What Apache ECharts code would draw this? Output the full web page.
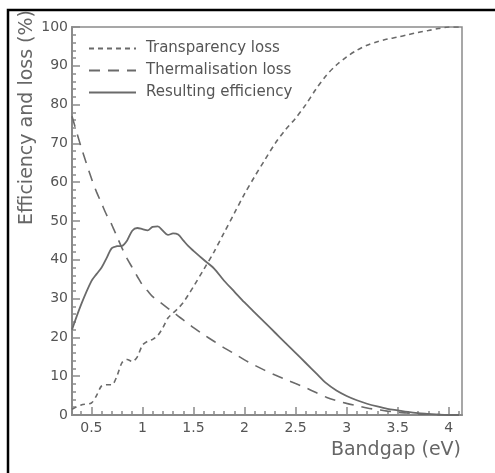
<!DOCTYPE html>
<html>
<head>
<meta charset="utf-8">
<title>Efficiency and loss</title>
<script src="https://cdn.jsdelivr.net/npm/echarts@6/dist/echarts.min.js"></script>
<style>
  html, body { margin: 0; padding: 0; background: #fff; }
  #chart { width: 495px; height: 473px; }
</style>
</head>
<body>
<div id="chart"></div>
<script>
// bandgap (eV) sample points
var bandgap = [0.31, 0.4, 0.5, 0.55, 0.6, 0.65, 0.7, 0.75, 0.8, 0.85, 0.9, 0.95, 1.0, 1.05, 1.1, 1.15, 1.2, 1.25, 1.3, 1.35, 1.4, 1.45, 1.5,
  1.6, 1.7, 1.8, 1.9, 2.0, 2.1, 2.2, 2.3, 2.4, 2.5, 2.6, 2.7, 2.8, 2.9, 3.0, 3.1, 3.2, 3.3, 3.4, 3.5, 3.6, 3.7, 3.8, 3.9, 4.0, 4.1];

var transparency = [1.5, 2.6, 3.1, 5, 7.5, 7.8, 7.8, 10, 13.5, 14.3, 13.8, 15, 18, 19, 19.5, 20.5, 22.5, 25, 26.3, 27.5, 29, 31, 33.1,
  37.5, 42, 47, 52, 57, 61.5, 65.8, 70, 73.5, 76.5, 80, 84, 87.5, 90.2, 92.3, 94, 95.3, 96.2, 96.9, 97.4, 98, 98.6, 99.1, 99.6, 100, 100];

var thermalisation = [77, 69, 61, 57.5, 54.5, 51.5, 49, 46, 43, 40.3, 38, 35.7, 33.5, 32, 30.5, 29.5, 28.5, 27.5, 26.5, 25.5, 24.5, 23.5, 22.5,
  20.7, 19, 17.3, 15.8, 14.2, 12.8, 11.5, 10.3, 9.2, 8.1, 7, 5.8, 4.6, 3.7, 3, 2.4, 1.8, 1.4, 1, 0.7, 0.5, 0.3, 0.2, 0.1, 0, 0];

var efficiency = [22, 28.5, 34.5, 36.3, 38, 40.5, 43, 43.5, 43.6, 45, 47.5, 48.2, 47.9, 47.6, 48.5, 48.6, 47.5, 46.4, 46.8, 46.5, 45, 43.5, 42.3,
  40, 37.8, 34.6, 31.8, 29, 26.4, 23.8, 21.2, 18.6, 16, 13.4, 10.8, 8.2, 6.3, 4.9, 3.8, 2.9, 2.2, 1.6, 1.2, 0.8, 0.5, 0.3, 0.1, 0, 0];

var xMajor = [0.5, 1, 1.5, 2, 2.5, 3, 3.5, 4];
var xMinor = [0.4, 0.6, 0.7, 0.8, 0.9, 1.1, 1.2, 1.3, 1.4, 1.6, 1.7, 1.8, 1.9, 2.1, 2.2, 2.3, 2.4,
  2.6, 2.7, 2.8, 2.9, 3.1, 3.2, 3.3, 3.4, 3.6, 3.7, 3.8, 3.9, 4.1];

function pairs(ys) {
  return bandgap.map(function (x, i) { return [x, ys[i]]; });
}

var grey = '#6a6a6a';
var axisGrey = '#8a8a8a';
var font = 'DejaVu Sans';

var chart = echarts.init(document.getElementById('chart'));

chart.setOption({
  animation: false,
  textStyle: { fontFamily: font },
  grid: {
    left: 72, top: 27, right: 33, bottom: 58,
    show: true, borderColor: axisGrey, borderWidth: 1.5,
    outerBoundsMode: 'none'
  },
  legend: {
    orient: 'vertical',
    left: 88, top: 41, padding: 0,
    itemWidth: 47, itemHeight: 14, itemGap: 7,
    itemStyle: { opacity: 0 },
    textStyle: { color: '#555', fontSize: 15, fontFamily: font, padding: [0, 0, 0, 5] },
    data: ['Transparency loss', 'Thermalisation loss', 'Resulting efficiency']
  },
  xAxis: [{
    type: 'value', position: 'bottom',
    min: 0.31, max: 4.13,
    splitLine: { show: false },
    axisLine: { lineStyle: { color: axisGrey, width: 2 } },
    axisTick: { inside: true, length: 8, customValues: xMajor, lineStyle: { color: axisGrey, width: 1.5 } },
    axisLabel: {
      customValues: xMajor, color: '#555', fontSize: 14, margin: 6,
      formatter: function (v) { return String(v); }
    }
  }, {
    type: 'value', position: 'bottom',
    min: 0.31, max: 4.13,
    splitLine: { show: false },
    axisLine: { show: false },
    axisTick: { inside: true, length: 4, customValues: xMinor, lineStyle: { color: axisGrey, width: 1.5 } },
    axisLabel: { show: false }
  }],
  yAxis: {
    type: 'value',
    min: 0, max: 100, interval: 10,
    splitLine: { show: false },
    axisLine: { show: true, lineStyle: { color: axisGrey, width: 2 } },
    axisTick: { inside: true, length: 8, lineStyle: { color: axisGrey, width: 1.5 } },
    minorTick: { show: true, splitNumber: 5, length: 4, lineStyle: { color: axisGrey, width: 1.5 } },
    axisLabel: { color: '#555', fontSize: 14, margin: 4 }
  },
  series: [{
    name: 'Transparency loss',
    type: 'line', symbol: 'none', smooth: 0.3,
    lineStyle: { color: grey, width: 1.6, type: [5, 4] },
    itemStyle: { color: grey },
    data: pairs(transparency)
  }, {
    name: 'Thermalisation loss',
    type: 'line', symbol: 'none', smooth: 0.3,
    lineStyle: { color: grey, width: 1.6, type: [11, 8] },
    itemStyle: { color: grey },
    data: pairs(thermalisation)
  }, {
    name: 'Resulting efficiency',
    type: 'line', symbol: 'none', smooth: 0.3,
    lineStyle: { color: grey, width: 1.8 },
    itemStyle: { color: grey },
    data: pairs(efficiency)
  }],
  graphic: [{
    type: 'rect', silent: true,
    shape: { x: 8, y: 10, width: 600, height: 600 },
    style: { fill: null, stroke: '#000', lineWidth: 2.5 }
  }, {
    type: 'text', x: 27, y: 10, rotation: Math.PI / 2,
    style: {
      text: 'Efficiency and loss (%)', fill: '#666', font: '19px "DejaVu Sans"',
      align: 'right', verticalAlign: 'middle'
    }
  }, {
    type: 'text', x: 461, y: 450,
    style: {
      text: 'Bandgap (eV)', fill: '#666', font: '19px "DejaVu Sans"',
      align: 'right', verticalAlign: 'middle'
    }
  }]
});
</script>
</body>
</html>
